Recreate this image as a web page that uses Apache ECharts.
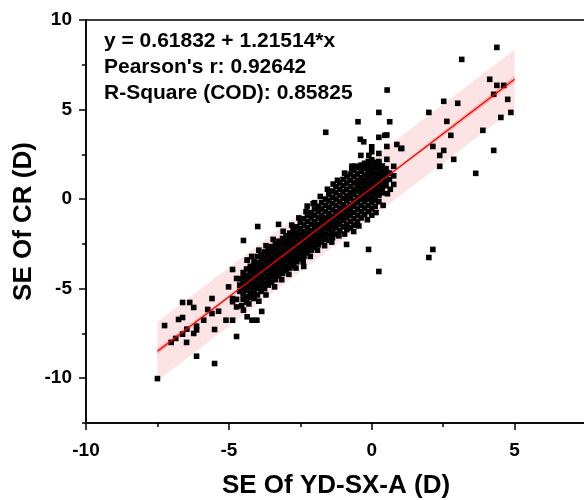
<!DOCTYPE html>
<html><head><meta charset="utf-8">
<script src="https://cdn.jsdelivr.net/npm/echarts@6/dist/echarts.min.js"></script>
<style>html,body{margin:0;padding:0;background:#fff}#c{width:584px;height:500px}</style>
</head><body><div id="c"></div>
<script>
// ---- axis ticks ----
const xTicksMajor = [-10, -5, 0, 5];
const xTicksMinor = [-7.5, -2.5, 2.5, 7.5];
const yTicksMajor = [-10, -5, 0, 5, 10];
const yTicksMinor = [-12.5, -7.5, -2.5, 2.5, 7.5];
const xTitle = 'SE Of YD-SX-A (D)';
const yTitle = 'SE Of CR (D)';

// ---- fit ----
const fitIntercept = 0.61832;
const fitSlope = 1.21514;
const fitRange = [-7.5, 5];
const fitText = ['y = 0.61832 + 1.21514*x', "Pearson's r: 0.92642", 'R-Square (COD): 0.85825'];

// ---- bands ----
const bandX = [-7.5, -5, -2.5, 0, 2.5, 5];
const predUpper = [-6.85, -3.82, -0.79, 2.25, 5.29, 8.34];
const predLower = [-10.15, -7.10, -4.05, -1.01, 2.02, 5.05];
const confUpper = [-8.31, -5.37, -2.38, 0.68, 3.78, 6.90];
const confLower = [-8.68, -5.55, -2.46, 0.56, 3.53, 6.49];

// ---- points ----
const sparseLeft = [
  [-7.50,-10.02],[-7.25,-7.06],[-7.02,-8.0],[-6.86,-7.78],[-6.76,-6.72],[-6.62,-6.61],[-6.62,-7.54],
  [-6.62,-5.77],[-6.37,-5.77],[-6.23,-6.05],[-6.48,-8.0],[-6.47,-7.26],[-6.23,-7.5],[-6.13,-7.09],
  [-6.13,-7.3],[-5.88,-6.76],[-5.74,-6.16],[-5.59,-5.55],[-5.59,-6.39],[-5.5,-7.28],[-5.36,-6.26],
  [-6.13,-8.77],[-5.50,-9.18],[-5.10,-6.76],[-5.01,-4.90],[-4.87,-3.93],[-4.87,-5.55],[-4.87,-5.73],
  [-4.87,-6.76],[-4.73,-4.43],[-4.73,-6.02],[-4.73,-7.67],[-4.73,-5.6],[-4.49,-6.2],[-4.36,-3.41],
  [-4.36,-6.57],[-4.19,-6.76],[-4.02,-6.76],[-4.04,-3.69],[-4.49,-2.31],[-3.99,-1.53],[-3.26,-1.41],
  [-3.85,-6.27],[-2.26,-0.39],[-2.0,-0.2],[-2.38,-3.76],[-2.73,-3.76],[-4.35,-3.41]
];
const cloudEdge = [
  [-4.2,-3.2],[-3.95,-2.85],[-3.7,-2.6],[-3.45,-2.25],[-3.1,-1.8],[-2.8,-1.45],[-2.55,-1.05],
  [-2.3,-0.7],[-2.05,-0.25],[-1.8,0.15],[-1.55,0.55],[-1.2,1.05],[-0.95,1.45],[-0.7,1.7],
  [-4.55,-5.95],[-4.3,-5.85],[-3.95,-5.7],[-3.7,-5.35],[-3.4,-4.9],[-3.15,-4.5],[-2.9,-4.2],
  [-2.65,-3.85],[-2.4,-3.5],[-2.15,-3.2],[-1.9,-2.85],[-1.65,-2.6],[-1.4,-2.4],[-1.15,-2.05],
  [-0.95,-1.95],[-0.45,-1.5],[-0.15,-1.15],[0.15,-0.75],[0.4,-0.35],[0.55,0.3],[0.65,0.55]
];
const upperCluster = [
  [0.25,4.84],[-0.48,4.32],[0.63,4.32],[-1.61,3.73],[-0.40,3.34],[-0.28,3.2],[0.25,3.45],[0.46,3.56],
  [0.53,3.58],[0.0,2.92],[0.0,2.64],[0.53,2.94],[0.88,3.05],[1.02,2.83],[-0.38,2.44],[-0.1,2.44],
  [0.25,2.55],[0.25,2.1],[0.53,2.22],[-0.69,1.84],[-0.57,1.84],[-0.38,1.83],[-0.1,1.83],[0.2,1.83],
  [0.77,1.83],[0.53,1.49],[-1.35,0.84],[0.54,6.09],[1.05,2.83]
];
const sparseRight = [
  [4.38,8.47],[3.15,7.80],[4.13,6.69],[4.38,6.35],[4.62,6.35],[4.27,5.85],[4.76,5.57],[4.87,4.84],
  [4.52,4.56],[2.52,5.46],[3.01,5.35],[2.0,4.84],[2.63,4.34],[2.77,3.56],[2.14,2.94],[3.89,3.84],
  [2.52,2.72],[2.38,2.44],[2.38,1.83],[2.87,2.22],[4.27,2.72],[3.64,1.44],[2.14,-2.81],[2.0,-3.26],
  [0.77,0.82]
];
const sparseBelow = [
  [-0.63,-1.81],[-0.88,-2.53],[-0.11,-2.81],[0.25,-4.04]
];
// dense cloud, as columns: [x, [y values]]
const cloudLower = [
  [-4.62,[-4.45,-4.8,-5.15]],
  [-4.5,[-4.1,-4.4,-4.7,-5.0,-5.3,-5.6]],
  [-4.38,[-3.9,-4.25,-4.55,-4.85,-5.1,-5.45,-5.75]],
  [-4.25,[-3.75,-4.05,-4.35,-4.6,-4.9,-5.2,-5.5]],
  [-4.12,[-3.5,-3.8,-4.1,-4.4,-4.7,-4.95,-5.25,-5.55]],
  [-4.0,[-3.2,-3.55,-3.85,-4.15,-4.45,-4.75,-5.0,-5.35]],
  [-3.87,[-3.1,-3.4,-3.7,-4.0,-4.3,-4.55,-4.85,-5.15]],
  [-3.75,[-2.95,-3.25,-3.55,-3.85,-4.1,-4.4,-4.7,-5.0]],
  [-3.62,[-2.8,-3.1,-3.4,-3.7,-3.95,-4.25,-4.55,-4.8]],
  [-3.5,[-2.65,-2.95,-3.25,-3.55,-3.8,-4.1,-4.35,-4.65]],
  [-3.37,[-2.55,-2.8,-3.1,-3.4,-3.65,-3.95,-4.2,-4.5]],
  [-3.25,[-2.35,-2.65,-2.95,-3.2,-3.5,-3.75,-4.05,-4.3]],
  [-3.12,[-2.2,-2.5,-2.8,-3.05,-3.35,-3.6,-3.9,-4.15]],
  [-3.0,[-2.05,-2.35,-2.65,-2.9,-3.2,-3.45,-3.75,-4.0]]
];
const cloudMiddle = [
  [-2.87,[-1.9,-2.2,-2.5,-2.75,-3.05,-3.3,-3.55,-3.85]],
  [-2.75,[-1.75,-2.05,-2.35,-2.6,-2.9,-3.15,-3.4,-3.65]],
  [-2.62,[-1.55,-1.85,-2.15,-2.45,-2.7,-3.0,-3.25,-3.5]],
  [-2.5,[-1.3,-1.65,-1.95,-2.25,-2.55,-2.8,-3.05,-3.35]],
  [-2.37,[-1.1,-1.45,-1.8,-2.1,-2.35,-2.65,-2.9,-3.2]],
  [-2.25,[-0.9,-1.25,-1.6,-1.9,-2.2,-2.5,-2.75,-3.0]],
  [-2.12,[-0.75,-1.05,-1.4,-1.75,-2.05,-2.3,-2.6,-2.85]],
  [-2.0,[-0.55,-0.9,-1.25,-1.55,-1.85,-2.15,-2.4,-2.7]],
  [-1.87,[-0.4,-0.7,-1.05,-1.4,-1.7,-2.0,-2.25,-2.55]],
  [-1.75,[-0.2,-0.55,-0.9,-1.2,-1.5,-1.8,-2.1,-2.4]],
  [-1.62,[0.0,-0.35,-0.7,-1.05,-1.35,-1.65,-1.95,-2.25]],
  [-1.5,[0.25,-0.1,-0.45,-0.8,-1.1,-1.4,-1.7,-2.0,-2.3]]
];
const cloudUpper = [
  [-1.37,[0.45,0.1,-0.25,-0.6,-0.95,-1.25,-1.55,-1.85,-2.15]],
  [-1.25,[0.7,0.35,0.0,-0.35,-0.7,-1.0,-1.3,-1.6,-1.95]],
  [-1.12,[0.9,0.55,0.2,-0.15,-0.5,-0.8,-1.1,-1.4,-1.75]],
  [-1.0,[1.1,0.75,0.4,0.05,-0.3,-0.6,-0.9,-1.2,-1.55]],
  [-0.87,[1.25,0.9,0.55,0.2,-0.1,-0.45,-0.75,-1.05,-1.4,-1.7]],
  [-0.75,[1.4,1.05,0.7,0.35,0.05,-0.3,-0.6,-0.9,-1.25,-1.6]],
  [-0.62,[1.6,1.25,0.9,0.55,0.25,-0.1,-0.4,-0.75,-1.1,-1.45]],
  [-0.5,[1.75,1.4,1.05,0.75,0.45,0.1,-0.2,-0.55,-0.9,-1.25]],
  [-0.37,[1.9,1.55,1.2,0.9,0.6,0.3,0.0,-0.35,-0.7,-1.05]],
  [-0.25,[2.0,1.7,1.35,1.05,0.75,0.45,0.15,-0.15,-0.5,-0.85]],
  [-0.12,[2.1,1.8,1.5,1.2,0.9,0.6,0.3,0.0,-0.35,-0.7]],
  [0.0,[2.2,1.9,1.6,1.3,1.0,0.7,0.4,0.1,-0.2,-0.55,-0.9]],
  [0.12,[2.05,1.75,1.45,1.15,0.85,0.55,0.25,-0.05,-0.4]],
  [0.25,[2.0,1.7,1.4,1.1,0.8,0.5,0.2,-0.15]],
  [0.37,[1.85,1.55,1.25,0.95,0.65,0.35]],
  [0.5,[1.7,1.35,1.05,0.75]],
  [0.62,[1.45,1.1]],
  [0.77,[1.3]]
];

function flattenCols(cols) {
  const out = [];
  cols.forEach(([x, ys]) => ys.forEach(y => out.push([x, y])));
  return out;
}
const points = [].concat(
  flattenCols(cloudLower), flattenCols(cloudMiddle), flattenCols(cloudUpper),
  cloudEdge, sparseLeft, upperCluster, sparseRight, sparseBelow
);
const fitLine = fitRange.map(x => [x, fitIntercept + fitSlope * x]);

const FONT = '"Liberation Sans", Arial, sans-serif';

function bandSeries(upper, lower, color, z) {
  return {
    type: 'custom', silent: true, z: z, xAxisIndex: 0, yAxisIndex: 0,
    data: bandX.map((x, i) => [x, lower[i], upper[i]]),
    renderItem: function (params, api) {
      if (params.dataIndex !== 0) return null;
      const pts = [];
      for (let i = 0; i < bandX.length; i++) pts.push(api.coord([bandX[i], upper[i]]));
      for (let i = bandX.length - 1; i >= 0; i--) pts.push(api.coord([bandX[i], lower[i]]));
      return { type: 'polygon', shape: { points: pts }, style: { fill: color } };
    }
  };
}

const chart = echarts.init(document.getElementById('c'), null, { renderer: 'canvas' });
const commonX = { type: 'value', min: -10, max: 7.5, splitLine: { show: false } };
const commonY = { type: 'value', min: -12.5, max: 10, splitLine: { show: false } };
chart.setOption({
  animation: false,
  backgroundColor: '#fff',
  grid: { left: 86, top: 20, width: 500, height: 403, containLabel: false, outerBoundsMode: 'none',
          show: true, borderColor: '#000', borderWidth: 1.5, backgroundColor: 'transparent' },
  xAxis: [
    Object.assign({}, commonX, {
      position: 'bottom',
      axisLine: { show: true, onZero: false, lineStyle: { color: '#000', width: 1.5 } },
      axisTick: { show: true, inside: false, length: 7, customValues: xTicksMajor, lineStyle: { color: '#000', width: 1.5 } },
      axisLabel: { show: true, customValues: xTicksMajor, margin: 18, color: '#000', fontFamily: FONT, fontWeight: 'bold', fontSize: 19 },
      name: xTitle, nameLocation: 'middle', nameGap: 50, nameMoveOverlap: false,
      nameTextStyle: { color: '#000', fontFamily: FONT, fontWeight: 'bold', fontSize: 26 }
    }),
    Object.assign({}, commonX, {
      position: 'bottom',
      axisLine: { show: false, onZero: false },
      axisTick: { show: true, inside: false, length: 4, customValues: xTicksMinor, lineStyle: { color: '#000', width: 1.5 } },
      axisLabel: { show: false }
    })
  ],
  yAxis: [
    Object.assign({}, commonY, {
      position: 'left',
      axisLine: { show: true, onZero: false, lineStyle: { color: '#000', width: 1.5 } },
      axisTick: { show: true, inside: false, length: 7, customValues: yTicksMajor, lineStyle: { color: '#000', width: 1.5 } },
      axisLabel: { show: true, customValues: yTicksMajor, margin: 14, color: '#000', fontFamily: FONT, fontWeight: 'bold', fontSize: 19 },
      name: yTitle, nameLocation: 'middle', nameGap: 49, nameRotate: 90, nameMoveOverlap: false,
      nameTextStyle: { color: '#000', fontFamily: FONT, fontWeight: 'bold', fontSize: 26 }
    }),
    Object.assign({}, commonY, {
      position: 'left',
      axisLine: { show: false, onZero: false },
      axisTick: { show: true, inside: false, length: 4, customValues: yTicksMinor, lineStyle: { color: '#000', width: 1.5 } },
      axisLabel: { show: false }
    })
  ],
  graphic: fitText.map((t, i) => ({
    type: 'text', left: 104, top: 31 + i * 26, z: 100,
    style: { text: t, fill: '#000', font: 'bold 21px ' + FONT }
  })),
  series: [
    bandSeries(predUpper, predLower, '#fde4e4', 1),
    bandSeries(confUpper, confLower, '#f8b9b9', 2),
    {
      type: 'scatter', z: 3, symbol: 'rect', symbolSize: 5.6,
      itemStyle: { color: '#000', opacity: 1 }, data: points, silent: true
    },
    {
      type: 'line', z: 4, data: fitLine, showSymbol: false, silent: true,
      lineStyle: { color: '#ff0000', width: 1.3 }
    }
  ]
});
</script>
</body></html>
